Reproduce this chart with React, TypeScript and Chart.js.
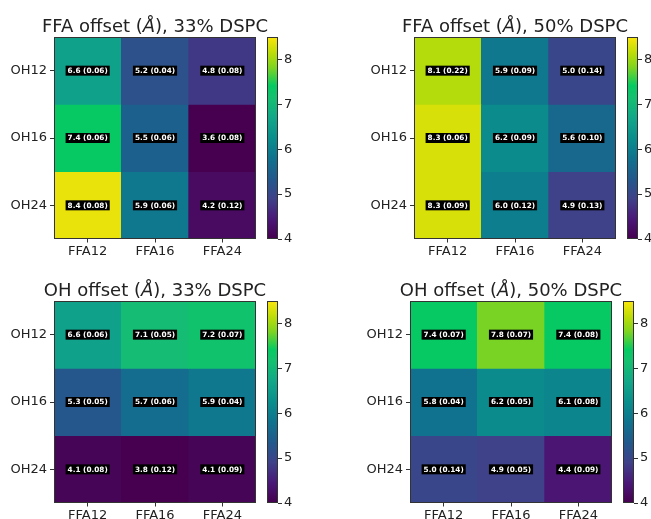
import React, { useEffect, useRef } from 'react';
import { Chart, registerables } from 'chart.js';

Chart.register(...registerables);

// ---------------- data ----------------
const xLabels = ['FFA12', 'FFA16', 'FFA24'];
const yLabels = ['OH12', 'OH16', 'OH24'];

const titles = [
  'FFA offset (Å), 33% DSPC',
  'FFA offset (Å), 50% DSPC',
  'OH offset (Å), 33% DSPC',
  'OH offset (Å), 50% DSPC',
];

const ffa33Values = [[6.6, 5.2, 4.8], [7.4, 5.5, 3.6], [8.4, 5.9, 4.2]];
const ffa33Errors = [[0.06, 0.04, 0.08], [0.06, 0.06, 0.08], [0.08, 0.06, 0.12]];
const ffa50Values = [[8.1, 5.9, 5.0], [8.3, 6.2, 5.6], [8.3, 6.0, 4.9]];
const ffa50Errors = [[0.22, 0.09, 0.14], [0.06, 0.09, 0.10], [0.09, 0.12, 0.13]];
const oh33Values = [[6.6, 7.1, 7.2], [5.3, 5.7, 5.9], [4.1, 3.8, 4.1]];
const oh33Errors = [[0.06, 0.05, 0.07], [0.05, 0.06, 0.04], [0.08, 0.12, 0.09]];
const oh50Values = [[7.4, 7.8, 7.4], [5.8, 6.2, 6.1], [5.0, 4.9, 4.4]];
const oh50Errors = [[0.07, 0.07, 0.08], [0.04, 0.05, 0.08], [0.14, 0.05, 0.09]];

const colorbarTicks = [4, 5, 6, 7, 8];
const colorMin = 4;
const colorMax = 8.5;

// saturated viridis-like palette (position 0..1, colour)
const paletteStops: [number, string][] = [
  [0.0, '#46004f'],
  [0.1, '#4a1878'],
  [0.2, '#3f4189'],
  [0.3, '#22598c'],
  [0.4, '#10728e'],
  [0.5, '#0a8e8c'],
  [0.6, '#12a789'],
  [0.7, '#14c070'],
  [0.76, '#06ca62'],
  [0.85, '#80d420'],
  [0.92, '#bcdc08'],
  [1.0, '#fbe60c'],
];

// ---------------- layout ----------------
const AREA = 202;
const Y_AXIS_W = 50;
const X_AXIS_H = 22;
const TITLE_SPACE = 40;
const RIGHT_PAD = 40;
const CB_W = 11;
const CB_AXIS_W = 30;
const CB_PAD = 12;

const panels = [
  { title: titles[0], values: ffa33Values, errors: ffa33Errors, left: 54, top: 37, cbLeft: 267 },
  { title: titles[1], values: ffa50Values, errors: ffa50Errors, left: 414, top: 37, cbLeft: 627 },
  { title: titles[2], values: oh33Values, errors: oh33Errors, left: 54, top: 301, cbLeft: 267 },
  { title: titles[3], values: oh50Values, errors: oh50Errors, left: 410, top: 301, cbLeft: 623 },
];

const FONT_FAMILY = "'DejaVu Sans', 'Liberation Sans', sans-serif";
const TEXT_COLOR = '#222';
const AXIS_COLOR = '#333';

function hexToRgb(h: string) {
  const n = parseInt(h.slice(1), 16);
  return [(n >> 16) & 255, (n >> 8) & 255, n & 255];
}

function colorAt(t: number) {
  t = Math.max(0, Math.min(1, t));
  let i = 0;
  while (i < paletteStops.length - 2 && t > paletteStops[i + 1][0]) i++;
  const [t0, c0] = paletteStops[i];
  const [t1, c1] = paletteStops[i + 1];
  const f = (t - t0) / (t1 - t0);
  const a = hexToRgb(c0);
  const b = hexToRgb(c1);
  const c = a.map((x, k) => Math.round(x + (b[k] - x) * f));
  return `rgb(${c[0]},${c[1]},${c[2]})`;
}

function valueColor(v: number) {
  return colorAt((v - colorMin) / (colorMax - colorMin));
}

function Heatmap({ panel }: { panel: any }) {
  const ref = useRef<HTMLCanvasElement | null>(null);
  useEffect(() => {
    if (!ref.current) return;
    const { values, errors, title } = panel;
    const decor = {
      id: 'heatDecor',
      afterDatasetsDraw(chart: any) {
        const ctx = chart.ctx;
        const a = chart.chartArea;
        ctx.save();
        ctx.strokeStyle = AXIS_COLOR;
        ctx.lineWidth = 1;
        ctx.strokeRect(Math.round(a.left) + 0.5, Math.round(a.top) + 0.5,
          Math.round(a.right - a.left) - 1, Math.round(a.bottom - a.top) - 1);
        ctx.font = `bold 7.3px ${FONT_FAMILY}`;
        ctx.textAlign = 'center';
        ctx.textBaseline = 'middle';
        chart.data.datasets.forEach((_ds: any, r: number) => {
          const meta = chart.getDatasetMeta(r);
          meta.data.forEach((el: any, c: number) => {
            const { x, y, base } = el.getProps(['x', 'y', 'base'], true);
            const cy = (y + base) / 2;
            const txt = `${values[r][c].toFixed(1)} (${errors[r][c].toFixed(2)})`;
            const w = ctx.measureText(txt).width;
            ctx.fillStyle = '#000';
            ctx.fillRect(x - w / 2 - 2, cy - 5, w + 4, 10);
            ctx.fillStyle = '#fff';
            ctx.fillText(txt, x, cy + 0.5);
          });
        });
        const parts = title.split('Å');
        const normal = `18px ${FONT_FAMILY}`;
        const italic = `italic 18px ${FONT_FAMILY}`;
        ctx.font = normal;
        const w0 = ctx.measureText(parts[0]).width;
        const w2 = ctx.measureText(parts[1]).width;
        ctx.font = italic;
        const w1 = ctx.measureText('Å').width;
        const total = w0 + w1 + w2;
        let tx = (a.left + a.right) / 2 - total / 2;
        const ty = a.top - 5.5;
        ctx.textAlign = 'left';
        ctx.textBaseline = 'alphabetic';
        ctx.fillStyle = TEXT_COLOR;
        ctx.font = normal;
        ctx.fillText(parts[0], tx, ty);
        tx += w0;
        ctx.font = italic;
        ctx.fillText('Å', tx, ty);
        tx += w1;
        ctx.font = normal;
        ctx.fillText(parts[1], tx, ty);
        ctx.restore();
      },
    };
    const font = { family: FONT_FAMILY, size: 13 };
    const chart = new Chart(ref.current, {
      type: 'bar',
      data: {
        labels: xLabels,
        datasets: yLabels.map((row, r) => ({
          label: row,
          data: xLabels.map(() => [r, r + 1]),
          backgroundColor: values[r].map((v: number) => valueColor(v)),
          borderWidth: 0,
          grouped: false,
          barPercentage: 1,
          categoryPercentage: 1,
        })) as any,
      },
      options: {
        responsive: false,
        animation: false,
        events: [],
        layout: { padding: { top: TITLE_SPACE, right: RIGHT_PAD, left: 0, bottom: 0 } },
        plugins: { legend: { display: false }, tooltip: { enabled: false }, title: { display: false } },
        scales: {
          x: {
            type: 'category',
            offset: true,
            grid: { offset: false, drawOnChartArea: false, drawTicks: true, tickLength: 3.5, color: AXIS_COLOR },
            border: { display: false },
            ticks: { font, color: TEXT_COLOR, padding: 1, maxRotation: 0, autoSkip: false },
            afterFit: (s: any) => { s.height = X_AXIS_H; },
          },
          y: {
            type: 'linear',
            min: 0,
            max: yLabels.length,
            reverse: true,
            afterBuildTicks: (s: any) => { s.ticks = yLabels.map((_l, i) => ({ value: i + 0.5 })); },
            grid: { drawOnChartArea: false, drawTicks: true, tickLength: 4, color: AXIS_COLOR },
            border: { display: false },
            ticks: { font, color: TEXT_COLOR, padding: 3, callback: (v: any) => yLabels[Math.floor(Number(v))] },
            afterFit: (s: any) => { s.width = Y_AXIS_W; },
          },
        },
      } as any,
      plugins: [decor],
    });
    return () => chart.destroy();
  }, [panel]);
  const w = Y_AXIS_W + AREA + RIGHT_PAD;
  const h = TITLE_SPACE + AREA + X_AXIS_H;
  return (
    <canvas
      ref={ref}
      width={w}
      height={h}
      style={{ position: 'absolute', left: panel.left - Y_AXIS_W, top: panel.top - TITLE_SPACE, width: w, height: h }}
    />
  );
}

function Colorbar({ panel }: { panel: any }) {
  const ref = useRef<HTMLCanvasElement | null>(null);
  useEffect(() => {
    if (!ref.current) return;
    const grad = {
      id: 'cbGrad',
      beforeDatasetsDraw(chart: any) {
        const ctx = chart.ctx;
        const a = chart.chartArea;
        const ys = chart.scales.y;
        const y0 = ys.getPixelForValue(colorMin);
        const y1 = ys.getPixelForValue(colorMax);
        const g = ctx.createLinearGradient(0, y0, 0, y1);
        paletteStops.forEach(([t, c]) => g.addColorStop(t, c));
        ctx.save();
        ctx.fillStyle = g;
        ctx.fillRect(a.left, a.top, a.right - a.left, a.bottom - a.top);
        ctx.strokeStyle = AXIS_COLOR;
        ctx.lineWidth = 1;
        ctx.strokeRect(Math.round(a.left) + 0.5, Math.round(a.top) + 0.5,
          Math.round(a.right - a.left) - 1, Math.round(a.bottom - a.top) - 1);
        ctx.restore();
      },
    };
    const chart = new Chart(ref.current, {
      type: 'bar',
      data: { labels: [''], datasets: [] },
      options: {
        responsive: false,
        animation: false,
        events: [],
        layout: { padding: { top: CB_PAD, bottom: CB_PAD, left: 0, right: 0 } },
        plugins: { legend: { display: false }, tooltip: { enabled: false } },
        scales: {
          x: { display: false },
          y: {
            type: 'linear',
            position: 'right',
            min: colorMin,
            max: colorMax,
            afterBuildTicks: (s: any) => { s.ticks = colorbarTicks.map((v) => ({ value: v })); },
            grid: { drawOnChartArea: false, drawTicks: true, tickLength: 4, color: AXIS_COLOR },
            border: { display: false },
            ticks: { font: { family: FONT_FAMILY, size: 13 }, color: TEXT_COLOR, padding: 2 },
            afterFit: (s: any) => { s.width = CB_AXIS_W; },
          },
        },
      } as any,
      plugins: [grad],
    });
    return () => chart.destroy();
  }, [panel]);
  const w = CB_W + CB_AXIS_W;
  const h = AREA + 2 * CB_PAD;
  return (
    <canvas
      ref={ref}
      width={w}
      height={h}
      style={{ position: 'absolute', left: panel.cbLeft, top: panel.top - CB_PAD, width: w, height: h }}
    />
  );
}

export default function App() {
  return (
    <div style={{ position: 'absolute', left: 0, top: 0, width: 651, height: 519, overflow: 'hidden', background: '#fff' }}>
      {panels.map((p, i) => (
        <React.Fragment key={i}>
          <Heatmap panel={p} />
          <Colorbar panel={p} />
        </React.Fragment>
      ))}
    </div>
  );
}
